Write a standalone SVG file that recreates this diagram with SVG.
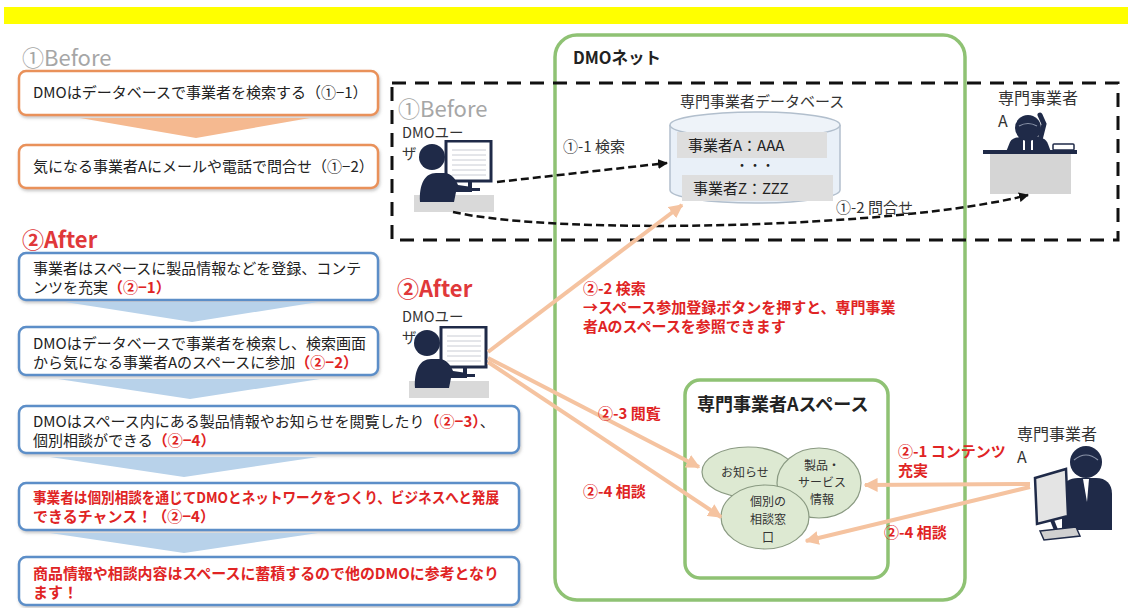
<svg xmlns="http://www.w3.org/2000/svg" width="1132" height="608" viewBox="0 0 1132 608">
  <style>
    text { font-family: "Noto Sans CJK JP", "Noto Sans", sans-serif; fill: #222; }
    .step { font-size: 15px; }
    .red { fill: #e02424; font-weight: bold; }
    .phase-gray { font-size: 22px; fill: #a6a6a6; }
    .phase-red { font-size: 22px; fill: #e0383a; font-weight: bold; }
    .lbl { font-size: 15px; fill: #333; }
    .usr { font-size: 14.5px; fill: #333; }
    .who { font-size: 16px; fill: #333; }
    .rlbl { font-size: 15px; fill: #e02424; font-weight: bold; }
    .box-o { fill: #fff; stroke: #e9915a; stroke-width: 2.5; filter: url(#shadow); }
    .box-b { fill: #fff; stroke: #5b8ec8; stroke-width: 2.5; filter: url(#shadow); }
    .green { fill: none; stroke: #8fc274; stroke-width: 3.5; }
    .ell { fill: #dde9d2; stroke: #8a9a82; stroke-width: 1.2; }
    .ell-t { font-size: 12px; fill: #333; text-anchor: middle; }
    .dash { fill: none; stroke: #111; stroke-width: 2.5; stroke-dasharray: 8 4; }
    .peach { fill: none; stroke: #f5c3a0; stroke-width: 4; }
    .navy { fill: #1f2a48; }
  </style>
  <defs>
    <filter id="shadow" x="-5%" y="-20%" width="110%" height="150%">
      <feDropShadow dx="1" dy="2" stdDeviation="1.5" flood-color="#888" flood-opacity="0.45"/>
    </filter>
    <marker id="arrow-black" viewBox="0 0 10 10" refX="9" refY="5" markerWidth="4" markerHeight="4" orient="auto">
      <path d="M0,0 L10,5 L0,10 Z" fill="#111"/>
    </marker>
    <marker id="arrow-peach" viewBox="0 0 10 10" refX="9" refY="5" markerWidth="3.5" markerHeight="3.5" orient="auto">
      <path d="M0,0 L10,5 L0,10 Z" fill="#f5c3a0"/>
    </marker>
    <!-- person seated at a monitor -->
    <symbol id="desk-user" viewBox="0 0 82 74" width="82" height="74">
      <rect x="0" y="55" width="80" height="17" fill="#d9d9d9"/>
      <rect x="32" y="1" width="45" height="40" fill="#fff" stroke="#1f2a48" stroke-width="3"/>
      <g stroke="#c9ccd4" stroke-width="1">
        <line x1="38" y1="10" x2="72" y2="10"/><line x1="38" y1="15" x2="72" y2="15"/>
        <line x1="38" y1="20" x2="72" y2="20"/><line x1="38" y1="25" x2="72" y2="25"/>
        <line x1="38" y1="30" x2="72" y2="30"/><line x1="38" y1="35" x2="72" y2="35"/>
      </g>
      <rect x="54" y="41" width="4" height="8" class="navy"/>
      <rect x="46" y="48" width="20" height="3" class="navy"/>
      <circle cx="18" cy="17" r="13" class="navy"/>
      <path d="M6,62 C5,44 11,33 22,33 L30,33 C38,33 42,40 44,45 L58,47 L58,52 L42,52 L40,62 Z" class="navy"/>
    </symbol>
  </defs>

  <rect width="1132" height="608" fill="#fff"/>
  <!-- header band -->
  <rect x="4" y="7" width="1124" height="17" fill="#ffff00"/>

  <!-- left column: before / after steps -->
  <g id="before-title"><text x="22" y="66" class="phase-gray">①Before</text></g>
  <g id="step-before-1">
    <rect x="19" y="71" width="359" height="44" rx="7" class="box-o"/>
    <text x="33" y="98" class="step" font-size="14">DMOはデータベースで事業者を検索する（①−1）</text>
  </g>
  <polygon points="80,118 310,118 196,138" fill="#f5b990"/>
  <g id="step-before-2">
    <rect x="19" y="145" width="359" height="43" rx="7" class="box-o"/>
    <text x="33" y="172" class="step" font-size="14.5">気になる事業者Aにメールや電話で問合せ（①−2）</text>
  </g>

  <g id="after-title"><text x="22" y="248" class="phase-red">②After</text></g>
  <g id="step-after-1">
    <rect x="19" y="253" width="359" height="47" rx="7" class="box-b"/>
    <text x="33" y="274" class="step">事業者はスペースに製品情報などを登録、コンテ</text>
    <text x="33" y="293" class="step">ンツを充実<tspan class="red">（②−1）</tspan></text>
  </g>
  <polygon points="65,302 318,302 192,322" fill="#b8d2ea"/>
  <g id="step-after-2">
    <rect x="19" y="327" width="359" height="48" rx="7" class="box-b"/>
    <text x="33" y="349" class="step">DMOはデータベースで事業者を検索し、検索画面</text>
    <text x="33" y="368" class="step">から気になる事業者Aのスペースに参加<tspan class="red">（②−2）</tspan></text>
  </g>
  <polygon points="58,379 320,379 190,399" fill="#b8d2ea"/>
  <g id="step-after-3">
    <rect x="19" y="406" width="500" height="47" rx="7" class="box-b"/>
    <text x="33" y="427" class="step">DMOはスペース内にある製品情報やお知らせを閲覧したり<tspan class="red">（②−3）</tspan>、</text>
    <text x="33" y="446" class="step">個別相談ができる<tspan class="red">（②−4）</tspan></text>
  </g>
  <polygon points="50,457 318,457 184,477" fill="#b8d2ea"/>
  <g id="step-after-4">
    <rect x="19" y="483" width="500" height="47" rx="7" class="box-b"/>
    <text x="33" y="503" class="step red" textLength="466" lengthAdjust="spacingAndGlyphs">事業者は個別相談を通じてDMOとネットワークをつくり、ビジネスへと発展</text>
    <text x="33" y="522" class="step red">できるチャンス！（②−4）</text>
  </g>
  <polygon points="50,533 318,533 184,553" fill="#b8d2ea"/>
  <g id="step-after-5">
    <rect x="19" y="557" width="500" height="48" rx="7" class="box-b"/>
    <text x="33" y="579" class="step red" textLength="466" lengthAdjust="spacingAndGlyphs">商品情報や相談内容はスペースに蓄積するので他のDMOに参考となり</text>
    <text x="33" y="598" class="step red">ます！</text>
  </g>

  <!-- DMO net container -->
  <g id="dmo-net">
    <rect x="555" y="35" width="410" height="565" rx="22" class="green"/>
    <text x="573" y="64" font-size="16.5" font-weight="bold" fill="#111">DMOネット</text>
  </g>

  <!-- before scenario frame -->
  <g id="before-frame">
    <rect x="392" y="83" width="726" height="157" fill="none" stroke="#111" stroke-width="3" stroke-dasharray="14 9"/>
    <text x="398" y="117" class="phase-gray">①Before</text>
  </g>

  <g id="dmo-user-before">
    <text x="402" y="138" class="usr">DMOユー</text>
    <text x="402" y="159" class="usr">ザ</text>
    <use href="#desk-user" x="414" y="140"/>
  </g>

  <g id="database">
    <text x="680" y="107" class="lbl">専門事業者データベース</text>
    <path d="M670,125 L670,190 A85,13 0 0 0 840,190 L840,125" fill="#e9f0f8" stroke="#b2bfcd" stroke-width="1.5"/>
    <ellipse cx="755" cy="125" rx="85" ry="13" fill="#eef3f9" stroke="#b2bfcd" stroke-width="1.5"/>
    <rect x="677" y="132" width="150" height="26" fill="#dedede"/>
    <rect x="682" y="175" width="151" height="26" fill="#dedede"/>
    <text x="688" y="151" font-size="15" fill="#333">事業者A：AAA</text>
    <text x="755" y="170" font-size="13" fill="#333" text-anchor="middle">・・・</text>
    <text x="693" y="194" font-size="15" fill="#333">事業者Z：ZZZ</text>
  </g>

  <g id="provider-phone">
    <text x="998" y="104" class="who">専門事業者</text>
    <text x="998" y="127" class="who">A</text>
    <path d="M1006,152 L1010,142 C1012,138 1018,137 1022,137 L1036,137 C1042,137 1046,139 1048,144 L1051,152 Z" class="navy"/>
    <rect x="1023" y="138" width="2" height="14" fill="#fff"/>
    <rect x="1031" y="138" width="2" height="14" fill="#fff"/>
    <circle cx="1028" cy="128" r="13" class="navy"/>
    <path d="M1019,126 Q1028,121 1037,126" stroke="#8a93a8" stroke-width="1.2" fill="none"/>
    <path d="M1040,140 L1044,124 L1040,115" stroke="#1f2a48" stroke-width="5" fill="none" stroke-linecap="round"/>
    <rect x="1053" y="144" width="21" height="6" rx="1" fill="#fff" stroke="#1f2a48" stroke-width="1.5"/>
    <rect x="983" y="150" width="94" height="4" class="navy"/>
    <rect x="990" y="154" width="81" height="40" fill="#d5d5d5"/>
  </g>

  <!-- after scenario nodes -->
  <g id="after-title-right"><text x="397" y="297" class="phase-red">②After</text></g>
  <g id="dmo-user-after">
    <text x="402" y="322" class="usr">DMOユー</text>
    <text x="402" y="343" class="usr">ザ</text>
    <use href="#desk-user" x="409" y="326"/>
  </g>

  <g id="provider-space">
    <rect x="685" y="380" width="203" height="198" rx="15" class="green"/>
    <text x="697" y="411" font-size="18" font-weight="bold" fill="#111">専門事業者Aスペース</text>
  </g>
  <g id="notice">
    <ellipse cx="748" cy="472" rx="46" ry="25" class="ell"/>
    <text x="745" y="477" class="ell-t">お知らせ</text>
  </g>
  <g id="product-info">
    <ellipse cx="819" cy="483" rx="42" ry="35" class="ell"/>
    <text x="822" y="470" class="ell-t">製品・</text>
    <text x="822" y="487" class="ell-t">サービス</text>
    <text x="822" y="504" class="ell-t">情報</text>
  </g>
  <g id="consult-desk">
    <ellipse cx="765" cy="517" rx="44" ry="32" class="ell"/>
    <text x="768" y="506" class="ell-t">個別の</text>
    <text x="768" y="524" class="ell-t">相談窓</text>
    <text x="768" y="542" class="ell-t">口</text>
  </g>

  <g id="provider-pc">
    <text x="1017" y="440" class="who">専門事業者</text>
    <text x="1017" y="463" class="who">A</text>
    <circle cx="1086" cy="462" r="16" class="navy"/>
    <path d="M1074,460 Q1086,450 1098,460" stroke="#8a93a8" stroke-width="1.2" fill="none"/>
    <path d="M1062,530 L1062,492 C1062,482 1070,478 1078,478 L1096,478 C1106,478 1112,484 1112,494 L1112,530 Z" class="navy"/>
    <path d="M1083,479 L1089,479 L1087,502 Z" fill="#fff"/>
    <path d="M1035,478 L1066,469 L1068,516 L1037,524 Z" fill="#e4e4e4" stroke="#1f2a48" stroke-width="2.5"/>
    <path d="M1052,520 L1056,530" stroke="#1f2a48" stroke-width="4"/>
    <path d="M1040,531 L1076,527 L1080,536 L1044,540 Z" fill="#d0d0d0" stroke="#1f2a48" stroke-width="1.5"/>
  </g>

  <!-- connectors -->
  <g id="connectors">
    <path d="M497,182 L667,163" class="dash" marker-end="url(#arrow-black)"/>
    <path d="M453,212 C560,236 900,228 1028,195" class="dash" marker-end="url(#arrow-black)"/>
    <path d="M488,352 L682,205" class="peach" marker-end="url(#arrow-peach)"/>
    <path d="M488,358 L699,467" class="peach" marker-end="url(#arrow-peach)"/>
    <path d="M488,362 L721,517" class="peach" marker-end="url(#arrow-peach)"/>
    <path d="M1030,484 L865,485" class="peach" marker-end="url(#arrow-peach)"/>
    <path d="M1030,487 L806,541" class="peach" marker-end="url(#arrow-peach)"/>
  </g>

  <!-- connector labels -->
  <g id="connector-labels">
    <text x="563" y="152" class="lbl">①-1 検索</text>
    <text x="836" y="213" class="lbl">①-2 問合せ</text>
    <text x="583" y="294" class="rlbl">②-2 検索</text>
    <text x="583" y="313" class="rlbl">→スペース参加登録ボタンを押すと、専門事業</text>
    <text x="583" y="332" class="rlbl">者Aのスペースを参照できます</text>
    <text x="598" y="419" class="rlbl">②-3 閲覧</text>
    <text x="583" y="497" class="rlbl">②-4 相談</text>
    <text x="898" y="457" class="rlbl">②-1 コンテンツ</text>
    <text x="898" y="476" class="rlbl">充実</text>
    <text x="884" y="538" class="rlbl">②-4 相談</text>
  </g>
</svg>
